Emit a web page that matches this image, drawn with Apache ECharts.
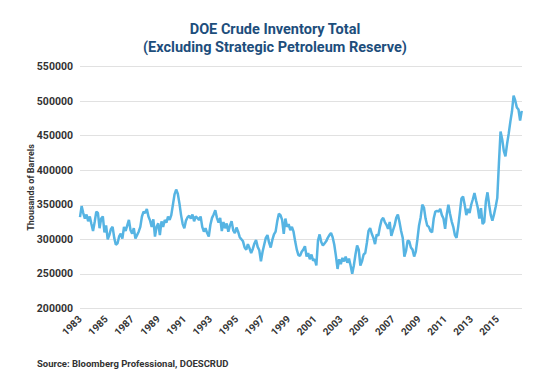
<!DOCTYPE html>
<html>
<head>
<meta charset="utf-8">
<script src="https://cdn.jsdelivr.net/npm/echarts@6/dist/echarts.min.js"></script>
<style>
html,body{margin:0;padding:0;background:#fff;}
#c{width:550px;height:381px;background:#fff;}
</style>
</head>
<body>
<div id="c"></div>
<script>
// Data: DOE crude inventory (thousand barrels), sampled every 1/8 year starting 1983.0
const startYear = 1983;
const stepsPerYear = 8;
const inventoryK = [
  332, 348, 338, 330, 336, 326, 333, 322, 312, 325,
  340, 338, 316, 330, 333, 310, 320, 300, 306, 315,
  318, 302, 292, 294, 304, 308, 301, 318, 312, 320,
  328, 313, 308, 316, 301, 306, 311, 318, 333, 340,
  338, 344, 333, 327, 318, 329, 304, 318, 323, 306,
  326, 318, 328, 324, 333, 328, 335, 350, 365, 372,
  366, 352, 335, 322, 316, 327, 332, 334, 330,
  336, 326, 333, 331, 328, 333, 318, 311, 316, 309,
  304, 321, 331, 336, 342, 331, 324, 331, 312, 325,
  316, 323, 311, 320, 326, 313, 309, 317, 311, 303,
  300, 297, 288, 285, 293, 287, 280, 286, 294, 299,
  289, 284, 268, 282, 292, 302, 306, 295, 288, 299,
  307, 311, 326, 337, 335, 328, 308, 330, 318, 322,
  313, 318, 311, 297, 285, 277, 276,
  282, 285, 290, 275, 280, 271, 278, 269, 271, 262,
  298, 307, 296, 291, 294, 297, 302, 306, 309, 303,
  292, 276, 257, 271, 264, 273, 268, 275, 266, 272,
  262, 250, 262, 278, 291, 285, 262, 268, 278, 280,
  295, 312, 316, 308, 302, 293, 307, 305, 318, 328,
  331, 325, 321, 315, 325, 305, 313, 320, 331, 336,
  325, 312, 302, 275, 283, 298, 297, 288,
  285, 275, 282, 300, 320, 332, 350, 346, 330, 320,
  318, 312, 310, 330, 340, 341, 340, 344, 335, 330,
  315, 336, 350, 337, 326, 318, 306, 302, 318, 338,
  359, 362, 350, 335, 344, 338, 350, 358, 367, 356,
  346, 330, 345, 322, 325, 355, 368, 350, 335, 327,
  336, 347, 360, 410, 456, 445, 428, 420, 438, 453,
  470, 485, 508, 501, 491, 488, 472, 486
];
const xTickYears = [1983, 1985, 1987, 1989, 1991, 1993, 1995, 1997, 1999, 2001, 2003, 2005, 2007, 2009, 2011, 2013, 2015];
const yMin = 200000, yMax = 550000, yStep = 50000;
const xLabelStep = 2;

const seriesData = inventoryK.map((v, i) => [i / stepsPerYear, v * 1000]);
const xMax = (inventoryK.length - 1) / stepsPerYear + 0.02;

const chart = echarts.init(document.getElementById('c'), null, { renderer: 'svg' });
const font = 'Roboto, "Liberation Sans", Arial, sans-serif';
const labelColor = '#333';

chart.setOption({
  animation: false,
  title: {
    text: 'DOE Crude Inventory Total\n(Excluding Strategic Petroleum Reserve)',
    left: 'center',
    top: 16,
    textStyle: { color: '#1d4e7c', fontSize: 14.5, fontWeight: 'bold', fontFamily: font, lineHeight: 17.5 }
  },
  graphic: [{
    type: 'text', left: 37, top: 358,
    style: { text: 'Source: Bloomberg Professional, DOESCRUD', fill: labelColor, font: 'bold 9.5px ' + font }
  }],
  grid: { left: 80, right: 28, top: 66.7, bottom: 72.7 },
  xAxis: {
    type: 'value', min: 0, max: xMax, interval: xLabelStep,
    axisLine: { show: false }, axisTick: { show: false }, splitLine: { show: false },
    axisLabel: {
      rotate: 45, margin: 9, color: labelColor, fontSize: 10, fontWeight: 'bold', fontFamily: font,
      showMaxLabel: false,
      formatter: function (v) {
        const r = Math.round(v);
        return (Math.abs(v - r) < 1e-6 && xTickYears.indexOf(startYear + r) >= 0) ? String(startYear + r) : '';
      }
    }
  },
  yAxis: {
    type: 'value', min: yMin, max: yMax, interval: yStep,
    name: 'Thousands of Barrels', nameLocation: 'middle', nameGap: 45, nameMoveOverlap: false,
    nameTextStyle: { color: labelColor, fontSize: 9, fontWeight: 'bold', fontFamily: font },
    axisLine: { show: false }, axisTick: { show: false },
    splitLine: { lineStyle: { color: '#e1e1e1', width: 1.2 } },
    axisLabel: { color: labelColor, fontSize: 10.5, fontWeight: 'bold', fontFamily: font, margin: 7,
      formatter: v => String(v) }
  },
  series: [{
    type: 'line', data: seriesData, showSymbol: false, symbol: 'none',
    lineStyle: { color: '#56b4e3', width: 2.5 }, smooth: false
  }]
});
</script>
</body>
</html>
